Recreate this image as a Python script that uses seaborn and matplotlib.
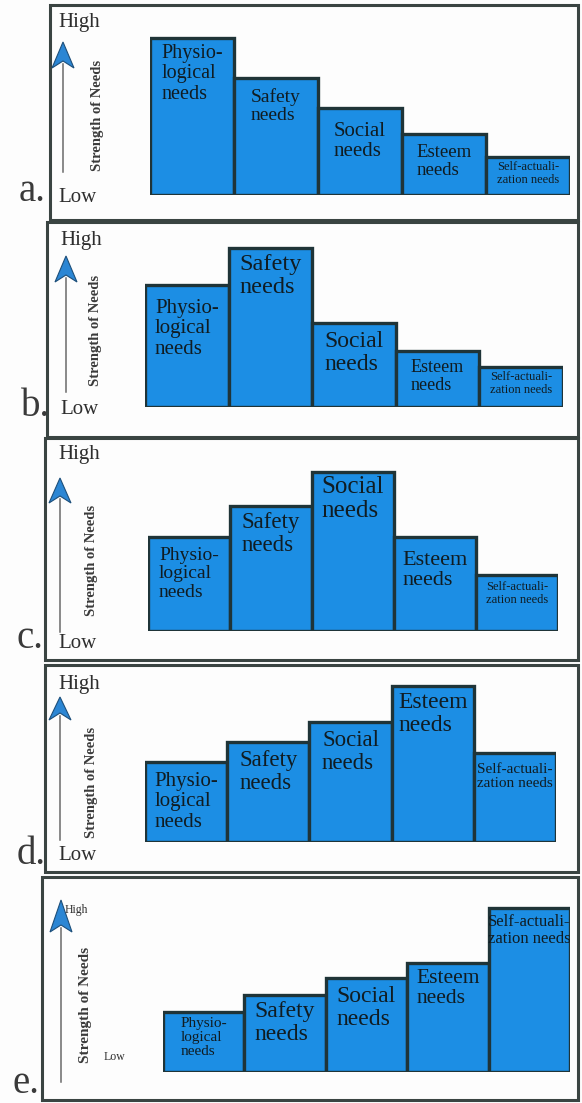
import matplotlib
matplotlib.use("Agg")
import matplotlib.pyplot as plt
from matplotlib.patches import Polygon, Rectangle
import pandas as pd
import seaborn as sns

W, H = 582, 1103
BLUE = "#1c8ee4"
EDGE = "#1f3438"
INK = "#101c22"
FRAME = "#3a4442"
SERIF = "Liberation Serif"

NEEDS = ["Physiological", "Safety", "Social", "Esteem", "Self-actualization"]
BAR_TEXT = ["Physio-\nlogical\nneeds", "Safety\nneeds", "Social\nneeds",
            "Esteem\nneeds", "Self-actuali-\nzation needs"]
LETTERS = ["a.", "b.", "c.", "d.", "e."]

# strength of each need at each stage (bar height above baseline, read in px)
STRENGTH_A = [157, 117, 87, 61, 38]
STRENGTH_B = [122, 159, 84, 56, 40]
STRENGTH_C = [94, 125, 159, 94, 56]
STRENGTH_D = [80, 100, 120, 156, 89]
STRENGTH_E = [60, 77, 94, 109, 164]
STAGES = [STRENGTH_A, STRENGTH_B, STRENGTH_C, STRENGTH_D, STRENGTH_E]

YMAX = 170

# ── layout per panel (pixels) ────────────────────────────────────────────────
LAYOUT = [
    dict(box=(50, 5, 578, 220), bars=(150, 570, 195),
         fs=[14.5, 14, 15, 13.5, 9], drop=[6, 10, 14, 10, 4],
         arrow=(63, 42, 68, 172), high=(58, 22, 15), low=(58, 198, 15),
         axis=(97, 115, 10.5), letter=(19, 201)),
    dict(box=(47, 222, 578, 437), bars=(145, 563, 407),
         fs=[15, 17.5, 17, 13, 9], drop=[14, 6, 8, 8, 4],
         arrow=(66, 256, 282, 392), high=(60, 240, 15), low=(60, 410, 15),
         axis=(96, 330, 10.5), letter=(21, 416)),
    dict(box=(45, 438, 578, 660), bars=(148, 558, 631),
         fs=[14, 16.5, 18, 16, 9], drop=[10, 6, 4, 14, 6],
         arrow=(60, 478, 503, 632), high=(58, 455, 15), low=(58, 643, 15),
         axis=(92, 560, 10.5), letter=(17, 648)),
    dict(box=(45, 665, 578, 872), bars=(145, 556, 842),
         fs=[15, 16.5, 16.5, 17, 11], drop=[10, 8, 8, 6, 10],
         arrow=(60, 697, 720, 840), high=(58, 684, 15), low=(58, 855, 15),
         axis=(92, 782, 10.5), letter=(17, 864)),
    dict(box=(42, 877, 578, 1100), bars=(163, 570, 1072),
         fs=[11, 17, 17, 15.5, 12], drop=[5, 6, 8, 6, 6],
         arrow=(61, 900, 932, 1082), high=(65, 910, 8.5), low=(104, 1057, 8.5),
         axis=(86, 1005, 11), letter=(12, 1093)),
]

fig = plt.figure(figsize=(W / 100, H / 100), dpi=100)
fig.patch.set_facecolor("#fdfdfd")

bg = fig.add_axes([0, 0, 1, 1])
bg.set_xlim(0, W)
bg.set_ylim(H, 0)
bg.axis("off")

for stage, lay, letter in zip(STAGES, LAYOUT, LETTERS):
    # frame
    x0, y0, x1, y1 = lay["box"]
    bg.add_patch(Rectangle((x0, y0), x1 - x0, y1 - y0, fill=False,
                           edgecolor=FRAME, linewidth=2.2))
    bg.text(lay["letter"][0], lay["letter"][1], letter, fontsize=28,
            family=SERIF, color="#3a3a3a", va="baseline", ha="left")

    # strength axis: arrow + labels
    ax_x, tip, base, bottom = lay["arrow"]
    bg.plot([ax_x, ax_x], [base - 4, bottom], color="#6a6a6a", lw=1.1)
    bg.add_patch(Polygon([(ax_x, tip), (ax_x - 11, base), (ax_x, base - 7),
                          (ax_x + 11, base)], closed=True,
                         facecolor="#2b86d4", edgecolor="#1d4f7a", lw=0.8))
    hx, hy, hs = lay["high"]
    bg.text(hx, hy, "High", fontsize=hs, family=SERIF, color="#2e2e2e",
            va="center", ha="left")
    lx, ly, ls = lay["low"]
    bg.text(lx, ly, "Low", fontsize=ls, family=SERIF, color="#2e2e2e",
            va="center", ha="left")
    sx, sy, ss = lay["axis"]
    bg.text(sx, sy, "Strength of Needs", fontsize=ss, family=SERIF,
            fontweight="bold", color="#3a3a3a", rotation=90,
            va="center", ha="center")

    # bars
    left, right, baseline = lay["bars"]
    ax = fig.add_axes([left / W, 1 - baseline / H, (right - left) / W, YMAX / H])
    ax.patch.set_alpha(0)
    df = pd.DataFrame({"need": NEEDS, "strength": stage})
    sns.barplot(data=df, x="need", y="strength", order=NEEDS, ax=ax,
                color=BLUE, saturation=1, width=1.0,
                edgecolor=EDGE, linewidth=2.4)
    ax.set_xlim(-0.5, 4.5)
    ax.set_ylim(0, YMAX)
    ax.axis("off")
    for i, (txt, val) in enumerate(zip(BAR_TEXT, stage)):
        ax.text(i, val - lay["drop"][i], txt, ha="center", va="top",
                multialignment="left", fontsize=lay["fs"][i],
                family=SERIF, color=INK, linespacing=1.1)

fig.savefig("out.png", dpi=100, facecolor=fig.get_facecolor())
